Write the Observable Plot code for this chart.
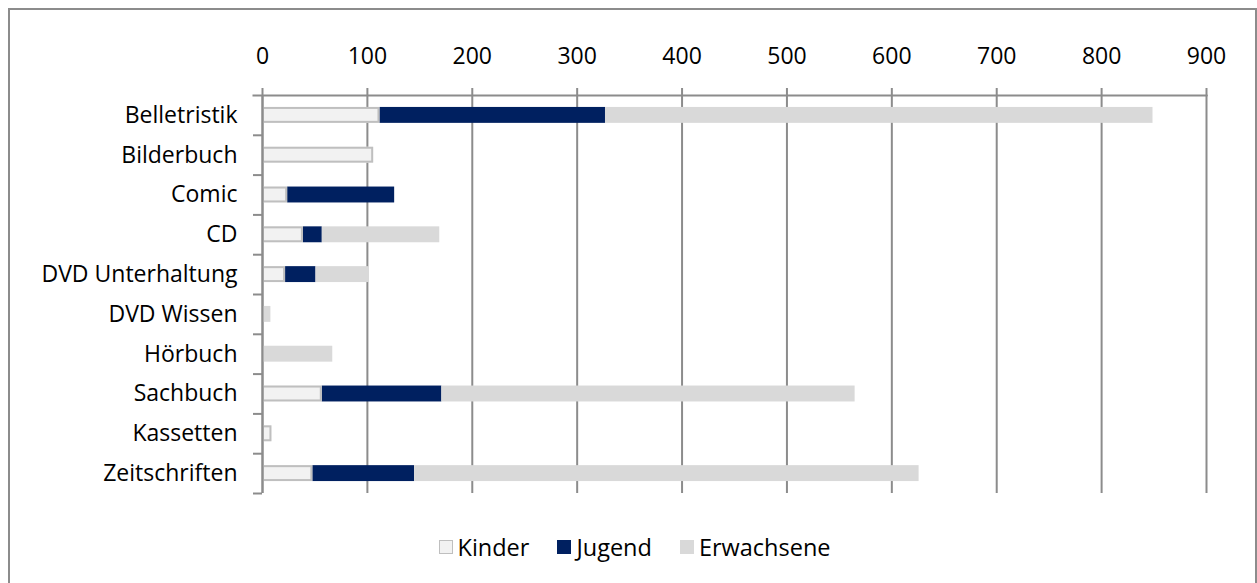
<!DOCTYPE html>
<html>
<head>
<meta charset="utf-8">
<script src="https://cdn.jsdelivr.net/npm/d3@7"></script>
<script src="https://cdn.jsdelivr.net/npm/@observablehq/plot@0.6"></script>
<style>
  body { margin: 0; background: #fff; font-family: "Open Sans", sans-serif; }
  #border { position: absolute; left: 8px; top: 8px; height: 600px; border: 2px solid #8c8c8c; box-sizing: border-box; width: 1249px; }
  #chart { position: absolute; left: 0; top: 0; width: 1257px; }
  #legend { display: flex; justify-content: center; align-items: center; margin-top: 24px; padding-left: 12px; font-size: 23.5px; line-height: 26px; color: #000; }
  .item { display: flex; align-items: center; margin: 0 14px; }
  .sw { width: 14px; height: 14px; margin-right: 5px; box-sizing: border-box; }
</style>
</head>
<body>
<div id="border"></div>
<div id="chart"></div>
<script>
const categories = ["Belletristik", "Bilderbuch", "Comic", "CD", "DVD Unterhaltung", "DVD Wissen", "Hörbuch", "Sachbuch", "Kassetten", "Zeitschriften"];
const seriesNames = ["Kinder", "Jugend", "Erwachsene"];
const kinder     = [112, 106, 24, 39, 22, 0, 0, 57, 9, 48];
const jugend     = [215, 0, 102, 18, 29, 0, 0, 114, 0, 97];
const erwachsene = [522, 0, 0, 112, 51, 8, 67, 394, 0, 481];
const xTicks = [0, 100, 200, 300, 400, 500, 600, 700, 800, 900];

const seriesColors = ["#f2f2f2", "#002060", "#d9d9d9"];
const gridColor = "#8c8c8c";

const values = [kinder, jugend, erwachsene];
const rows = [];
categories.forEach((c, i) => {
  seriesNames.forEach((s, j) => {
    if (values[j][i] > 0) rows.push({category: c, series: s, value: values[j][i]});
  });
});

const marginTop = 95, marginBottom = 17, height = 510;
const step = (height - marginTop - marginBottom) / categories.length;

const plot = Plot.plot({
  width: 1257,
  height,
  marginTop,
  marginBottom,
  marginLeft: 262,
  marginRight: 51,
  style: { fontFamily: "'Open Sans', sans-serif", fontSize: "23px", color: "#000", background: "transparent" },
  x: { domain: [0, 900] },
  y: { domain: categories, paddingInner: 0.6, paddingOuter: 0.3, round: false },
  color: { domain: seriesNames, range: seriesColors },
  marks: [
    Plot.gridX({ ticks: xTicks, stroke: gridColor, strokeOpacity: 1, strokeWidth: 2 }),
    Plot.barX(rows, Plot.stackX({ x: "value", y: "category", fill: "series", order: seriesNames })),
    Plot.barX(rows.filter(d => d.series === "Kinder"), { x: "value", y: "category", fill: "none", stroke: "#bfbfbf", strokeWidth: 2, inset: 1 }),
    Plot.ruleX([0], { stroke: gridColor, strokeWidth: 2 }),
    Plot.ruleY(categories, { y: d => d, dy: step / 2, x1: 0, x2: 0, insetLeft: -9, stroke: gridColor, strokeWidth: 2 }),
    Plot.frame({ anchor: "top", stroke: gridColor, strokeWidth: 2, insetLeft: -9 }),
    Plot.axisX({ anchor: "top", ticks: xTicks, tickSize: 8, tickPadding: 24, stroke: gridColor, strokeWidth: 2, fill: "#000", label: null }),
    Plot.axisY({ tickSize: 0, tickPadding: 25, fill: "#000", label: null })
  ]
});
document.getElementById("chart").appendChild(plot);

const legend = document.createElement("div");
legend.id = "legend";
seriesNames.forEach((s, j) => {
  const item = document.createElement("div");
  item.className = "item";
  const sw = document.createElement("div");
  sw.className = "sw";
  sw.style.background = seriesColors[j];
  if (s === "Kinder") sw.style.border = "1.5px solid #bfbfbf";
  const label = document.createElement("span");
  label.textContent = s;
  item.appendChild(sw);
  item.appendChild(label);
  legend.appendChild(item);
});
document.getElementById("chart").appendChild(legend);
</script>
</body>
</html>
